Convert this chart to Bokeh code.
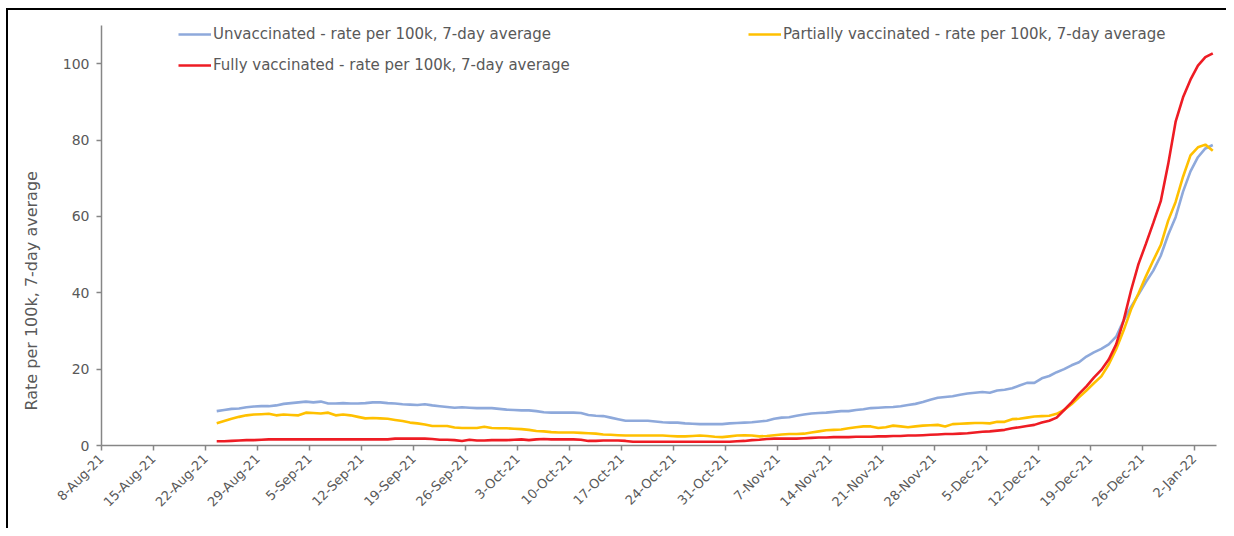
import pandas as pd
from bokeh.plotting import figure
from bokeh.models import Range1d, FixedTicker, Legend, LegendItem, Title
from bokeh.embed import file_html
from bokeh.resources import INLINE

# ---- data (daily, 23-Aug-21 .. 4-Jan-22) ----
FIRST_DAY = "2021-08-23"
AXIS_ORIGIN = "2021-08-08"

unvaccinated = [
    9.0, 9.3, 9.6, 9.7, 10.0, 10.2, 10.3, 10.3, 10.5, 10.9,
    11.1, 11.3, 11.5, 11.3, 11.5, 11.0, 11.0, 11.1, 11.0, 11.0,
    11.1, 11.3, 11.3, 11.1, 11.0, 10.8, 10.7, 10.6, 10.8, 10.5,
    10.3, 10.1, 9.9, 10.0, 9.9, 9.8, 9.8, 9.8, 9.6, 9.4,
    9.3, 9.2, 9.2, 9.0, 8.7, 8.6, 8.6, 8.6, 8.6, 8.5,
    8.0, 7.8, 7.7, 7.3, 6.9, 6.5, 6.5, 6.5, 6.5, 6.3,
    6.1, 6.0, 6.0, 5.8, 5.7, 5.6, 5.6, 5.6, 5.6, 5.8,
    5.9, 6.0, 6.1, 6.3, 6.5, 7.0, 7.3, 7.4, 7.8, 8.1,
    8.4, 8.5, 8.6, 8.8, 9.0, 9.0, 9.3, 9.5, 9.8, 9.9,
    10.0, 10.1, 10.3, 10.6, 10.9, 11.4, 12.0, 12.5, 12.7, 12.9,
    13.3, 13.6, 13.8, 14.0, 13.8, 14.4, 14.6, 15.0, 15.7, 16.4,
    16.4, 17.6, 18.2, 19.2, 20.0, 21.0, 21.8, 23.3, 24.4, 25.3,
    26.5, 28.5, 32.7, 36.3, 39.5, 42.8, 45.8, 49.7, 55.2, 59.8,
    66.5, 71.8, 75.5, 77.8, 78.7,
]

partially = [
    5.8, 6.4, 7.0, 7.5, 7.9, 8.1, 8.2, 8.3, 7.9, 8.1,
    8.0, 7.9, 8.6, 8.5, 8.4, 8.6, 7.9, 8.1, 7.9, 7.5,
    7.1, 7.2, 7.1, 7.0, 6.7, 6.4, 6.0, 5.8, 5.5, 5.1,
    5.1, 5.1, 4.7, 4.6, 4.6, 4.6, 4.9, 4.6, 4.5, 4.5,
    4.4, 4.3, 4.1, 3.8, 3.7, 3.5, 3.4, 3.4, 3.4, 3.3,
    3.2, 3.1, 2.9, 2.8, 2.7, 2.6, 2.6, 2.6, 2.6, 2.6,
    2.6, 2.5, 2.4, 2.4, 2.5, 2.6, 2.5, 2.3, 2.2, 2.4,
    2.6, 2.7, 2.6, 2.4, 2.5, 2.7, 2.9, 3.0, 3.0, 3.1,
    3.4, 3.7, 4.0, 4.1, 4.2, 4.5, 4.8, 5.0, 5.0, 4.6,
    4.8, 5.2, 5.0, 4.8, 5.0, 5.2, 5.3, 5.4, 5.0, 5.6,
    5.7, 5.8, 5.9, 5.9, 5.8, 6.2, 6.2, 6.9, 7.0, 7.3,
    7.6, 7.7, 7.8, 8.3, 9.3, 10.8, 12.6, 14.4, 16.3, 18.1,
    21.2, 25.2, 30.1, 35.6, 39.8, 44.3, 48.5, 52.5, 58.9, 63.8,
    70.4, 76.0, 78.1, 78.8, 77.2,
]

fully = [
    1.1, 1.1, 1.2, 1.3, 1.4, 1.4, 1.5, 1.6, 1.6, 1.6,
    1.6, 1.6, 1.6, 1.6, 1.6, 1.6, 1.6, 1.6, 1.6, 1.6,
    1.6, 1.6, 1.6, 1.6, 1.8, 1.8, 1.8, 1.8, 1.8, 1.7,
    1.5, 1.5, 1.4, 1.2, 1.5, 1.3, 1.3, 1.4, 1.4, 1.4,
    1.5, 1.6, 1.4, 1.6, 1.7, 1.6, 1.6, 1.6, 1.6, 1.5,
    1.2, 1.2, 1.3, 1.3, 1.3, 1.2, 1.0, 1.0, 1.0, 1.0,
    1.0, 1.0, 1.0, 1.0, 1.0, 1.0, 1.0, 1.0, 1.0, 1.0,
    1.1, 1.2, 1.4, 1.5, 1.7, 1.8, 1.8, 1.8, 1.8, 1.9,
    2.0, 2.1, 2.1, 2.2, 2.2, 2.2, 2.3, 2.3, 2.3, 2.4,
    2.4, 2.5, 2.5, 2.6, 2.6, 2.7, 2.8, 2.9, 3.0, 3.0,
    3.1, 3.2, 3.4, 3.6, 3.7, 3.9, 4.1, 4.5, 4.8, 5.1,
    5.4, 6.0, 6.5, 7.3, 9.3, 11.3, 13.5, 15.5, 17.8, 19.8,
    22.5, 26.5, 32.7, 40.6, 47.5, 52.8, 58.3, 64.0, 73.7, 84.8,
    91.2, 95.8, 99.5, 101.7, 102.7,
]

tick_labels = [
    "8-Aug-21", "15-Aug-21", "22-Aug-21", "29-Aug-21", "5-Sep-21", "12-Sep-21",
    "19-Sep-21", "26-Sep-21", "3-Oct-21", "10-Oct-21", "17-Oct-21", "24-Oct-21",
    "31-Oct-21", "7-Nov-21", "14-Nov-21", "21-Nov-21", "28-Nov-21", "5-Dec-21",
    "12-Dec-21", "19-Dec-21", "26-Dec-21", "2-Jan-22",
]
y_ticks = [0, 20, 40, 60, 80, 100]

series_names = [
    "Unvaccinated - rate per 100k, 7-day average",
    "Partially vaccinated - rate per 100k, 7-day average",
    "Fully vaccinated - rate per 100k, 7-day average",
]
series_colors = ["#8EA9DB", "#FFC000", "#EE1C24"]

# ---- positions derived from dates ----
origin = pd.Timestamp(AXIS_ORIGIN)
dates = pd.date_range(FIRST_DAY, periods=len(unvaccinated), freq="D")
x = [(d - origin).days + 0.5 for d in dates]
tick_dates = pd.date_range(origin, periods=len(tick_labels), freq="7D")
tick_pos = [(d - origin).days for d in tick_dates]

FONT = "DejaVu Sans"
TXT = "#595959"
AX = "#868686"

p = figure(width=1226, height=528, output_backend="svg", toolbar_location=None,
           x_range=Range1d(0, 150), y_range=Range1d(0, 110),
           min_border_left=101, min_border_right=10, min_border_top=25,
           min_border_bottom=83)
# chart border (top and left edges) drawn as a background behind a transparent canvas
p.border_fill_color = None
p.styles = {
    "background": ("linear-gradient(#000,#000) 6px 8px / 2px 100% no-repeat, "
                   "linear-gradient(#000,#000) 6px 8px / 100% 2px no-repeat, #ffffff"),
}
p.background_fill_color = "#ffffff"
p.outline_line_color = None
p.xgrid.grid_line_color = None
p.ygrid.grid_line_color = None

renderers = []
for vals, col in zip([unvaccinated, partially, fully], series_colors):
    r = p.line(x, vals, line_color=col, line_width=2.6)
    renderers.append(r)

# axes
p.xaxis.ticker = FixedTicker(ticks=tick_pos)
p.xaxis.major_label_overrides = {t: lab for t, lab in zip(tick_pos, tick_labels)}
p.xaxis.major_label_orientation = 0.785398
p.yaxis.ticker = FixedTicker(ticks=y_ticks)
for ax in (p.xaxis[0], p.yaxis[0]):
    ax.axis_line_color = AX
    ax.axis_line_width = 1.5
    ax.major_tick_line_color = AX
    ax.major_tick_line_width = 1.5
    ax.major_tick_in = 0
    ax.major_tick_out = 5
    ax.minor_tick_line_color = None
    ax.major_label_text_color = TXT
    ax.major_label_text_font = FONT
    ax.major_label_text_font_size = "13px"
p.yaxis.major_label_text_font_size = "14px"
p.yaxis.major_label_standoff = 7
p.xaxis.major_label_standoff = 6

ylab = Title(text="Rate per 100k, 7-day average", align="left", offset=35,
             text_font=FONT, text_font_size="16px", text_color=TXT,
             text_font_style="normal", background_fill_color=None)
if "standoff" in Title.properties():
    ylab.standoff = 37
else:
    p.add_layout(Title(text=" ", text_font_size="27px"), "left")
p.add_layout(ylab, "left")

common = dict(border_line_color=None, background_fill_alpha=0, padding=0, margin=0,
              glyph_width=33, glyph_height=14, label_height=14, label_standoff=2,
              spacing=13, label_text_font=FONT, label_text_font_size="15px",
              label_text_color=TXT)
leg1 = Legend(items=[LegendItem(label=series_names[0], renderers=[renderers[0]]),
                     LegendItem(label=series_names[2], renderers=[renderers[2]])],
              location=(77, 371), **common)
leg2 = Legend(items=[LegendItem(label=series_names[1], renderers=[renderers[1]])],
              location=(647, 402), **common)
p.add_layout(leg1)
p.add_layout(leg2)

open("out.html", "w").write(file_html(p, INLINE))
